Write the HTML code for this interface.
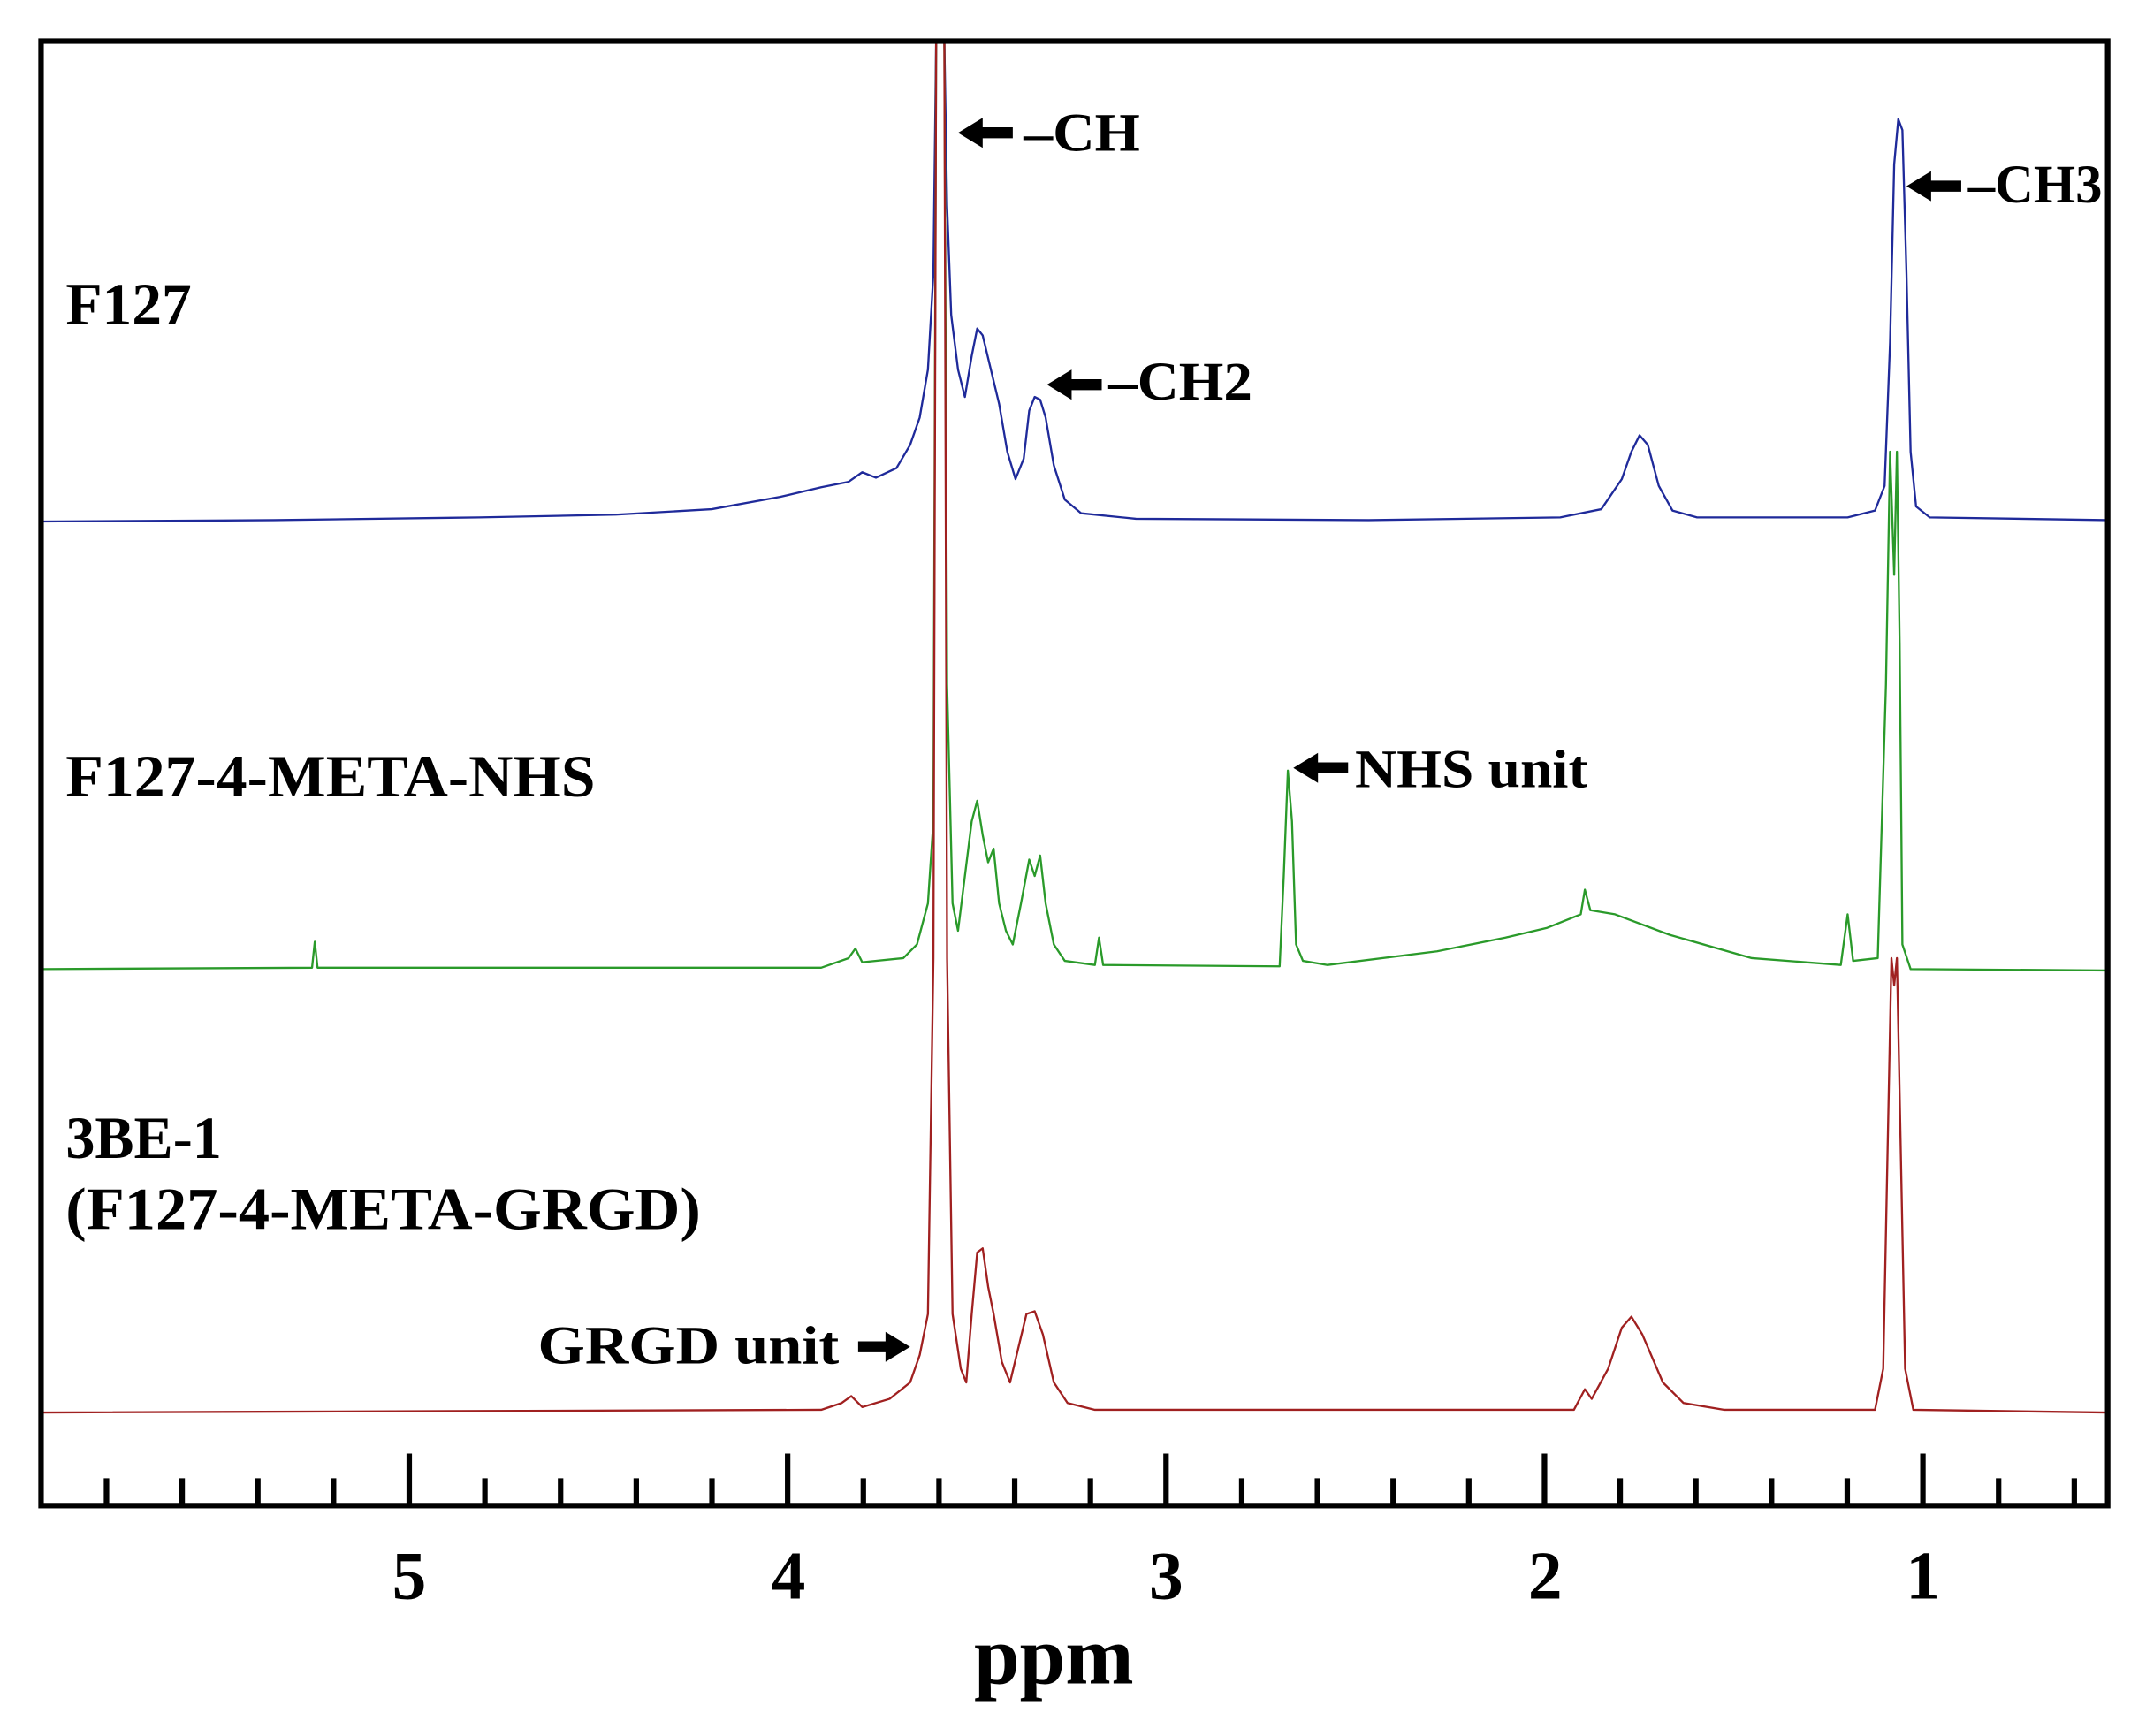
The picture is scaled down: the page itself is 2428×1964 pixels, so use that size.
<!DOCTYPE html>
<html><head><meta charset="utf-8"><style>
html,body{margin:0;padding:0;background:#fff}
svg{display:block}
text{font-family:"Liberation Serif",serif;font-weight:bold;fill:#000}
</style></head><body>
<svg xmlns="http://www.w3.org/2000/svg" width="2428" height="1964" viewBox="0 0 1568 1268.3">
<defs><clipPath id="c"><rect x="30" y="30" width="1510" height="1070"/></clipPath></defs>
<rect width="1568" height="1269" fill="#fff"/>
<g clip-path="url(#c)" fill="none" stroke-width="1.5" stroke-linejoin="round">
<path stroke="#1f2a9a" d="M30,381 L200,380 L350,378 L450,376 L520,372 L570,363 L600,356 L620,352 L630,345 L640,349 L655,342 L665,325 L672,305 L678,270 L682,200 L684,30 L686,20 L688,20 L690,30 L692,150 L695,230 L700,270 L705,290 L710,260 L714,240 L718,245 L724,270 L730,295 L736,330 L742,350 L748,335 L752,300 L756,290 L760,292 L764,305 L770,340 L778,365 L790,375 L830,379 L1000,380 L1140,378 L1170,372 L1185,350 L1192,330 L1198,318 L1204,325 L1212,355 L1222,373 L1240,378 L1350,378 L1370,373 L1377,355 L1381,250 L1384,120 L1387,87 L1390,95 L1393,200 L1396,330 L1400,370 L1410,378 L1540,380"/>
<path stroke="#2a9a2a" d="M30,708 L228,707 L230,688 L232,707 L600,707 L620,700 L625,693 L630,703 L660,700 L670,690 L678,660 L682,600 L684,30 L688,20 L690,30 L692,500 L696,660 L700,680 L705,640 L710,600 L714,585 L718,610 L722,630 L726,620 L730,660 L735,680 L740,690 L746,660 L752,628 L756,640 L760,625 L764,660 L770,690 L778,702 L800,705 L803,685 L806,705 L935,706 L938,640 L941,563 L944,600 L947,690 L952,702 L970,705 L1050,695 L1100,685 L1130,678 L1155,668 L1158,650 L1162,665 L1180,668 L1220,683 L1280,700 L1345,705 L1350,668 L1354,702 L1372,700 L1378,500 L1381,330 L1384,420 L1386,330 L1388,470 L1390,690 L1396,708 L1540,709"/>
<path stroke="#a02020" d="M30,1032 L600,1030 L615,1025 L622,1020 L630,1028 L650,1022 L665,1010 L672,990 L678,960 L682,700 L684,30 L688,20 L690,30 L692,700 L696,960 L702,1000 L706,1010 L710,960 L714,915 L718,912 L722,940 L726,960 L732,995 L738,1010 L744,985 L750,960 L756,958 L762,975 L770,1010 L780,1025 L800,1030 L1150,1030 L1158,1015 L1163,1022 L1175,1000 L1185,970 L1192,962 L1200,975 L1215,1010 L1230,1025 L1260,1030 L1370,1030 L1376,1000 L1380,800 L1382,700 L1384,720 L1386,700 L1388,800 L1392,1000 L1398,1030 L1540,1032"/>
</g>
<rect x="30" y="30" width="1510" height="1070" fill="none" stroke="#000" stroke-width="4"/>
<g stroke="#000" stroke-width="4">
<line x1="77.8" y1="1100" x2="77.8" y2="1080"/><line x1="133.1" y1="1100" x2="133.1" y2="1080"/><line x1="188.4" y1="1100" x2="188.4" y2="1080"/><line x1="243.7" y1="1100" x2="243.7" y2="1080"/><line x1="299" y1="1100" x2="299" y2="1062"/><line x1="354.3" y1="1100" x2="354.3" y2="1080"/><line x1="409.6" y1="1100" x2="409.6" y2="1080"/><line x1="464.9" y1="1100" x2="464.9" y2="1080"/><line x1="520.2" y1="1100" x2="520.2" y2="1080"/><line x1="575.5" y1="1100" x2="575.5" y2="1062"/><line x1="630.8" y1="1100" x2="630.8" y2="1080"/><line x1="686.1" y1="1100" x2="686.1" y2="1080"/><line x1="741.4" y1="1100" x2="741.4" y2="1080"/><line x1="796.7" y1="1100" x2="796.7" y2="1080"/><line x1="852" y1="1100" x2="852" y2="1062"/><line x1="907.3" y1="1100" x2="907.3" y2="1080"/><line x1="962.6" y1="1100" x2="962.6" y2="1080"/><line x1="1017.9" y1="1100" x2="1017.9" y2="1080"/><line x1="1073.2" y1="1100" x2="1073.2" y2="1080"/><line x1="1128.5" y1="1100" x2="1128.5" y2="1062"/><line x1="1183.8" y1="1100" x2="1183.8" y2="1080"/><line x1="1239.1" y1="1100" x2="1239.1" y2="1080"/><line x1="1294.4" y1="1100" x2="1294.4" y2="1080"/><line x1="1349.7" y1="1100" x2="1349.7" y2="1080"/><line x1="1405" y1="1100" x2="1405" y2="1062"/><line x1="1460.3" y1="1100" x2="1460.3" y2="1080"/><line x1="1515.6" y1="1100" x2="1515.6" y2="1080"/>
</g>
<g font-size="50" text-anchor="middle">
<text x="299" y="1168">5</text><text x="576" y="1168">4</text><text x="852" y="1168">3</text><text x="1129" y="1168">2</text><text x="1405" y="1168">1</text>
</g>
<text x="770" y="1230" font-size="60" text-anchor="middle">ppm</text>
<g font-size="44">
<text x="48" y="237" textLength="92" lengthAdjust="spacingAndGlyphs">F127</text>
<text x="48" y="582" textLength="387" lengthAdjust="spacingAndGlyphs">F127-4-META-NHS</text>
<text x="48" y="846" textLength="114" lengthAdjust="spacingAndGlyphs">3BE-1</text>
<text x="48" y="898" textLength="464" lengthAdjust="spacingAndGlyphs">(F127-4-META-GRGD)</text>
</g>
<g font-size="40">
<text x="748" y="110" textLength="85" lengthAdjust="spacingAndGlyphs">–CH</text>
<text x="810" y="292" textLength="105" lengthAdjust="spacingAndGlyphs">–CH2</text>
<text x="1438" y="148" textLength="98" lengthAdjust="spacingAndGlyphs">–CH3</text>
<text x="990" y="575" textLength="170" lengthAdjust="spacingAndGlyphs">NHS unit</text>
<text x="393" y="996" textLength="220" lengthAdjust="spacingAndGlyphs">GRGD unit</text>
</g>
<g fill="#000">
<polygon points="700,97 718,86 718,93 740,93 740,101 718,101 718,108"/>
<polygon points="765,281 783,270 783,277 805,277 805,285 783,285 783,292"/>
<polygon points="1393,136 1411,125 1411,132 1433,132 1433,140 1411,140 1411,147"/>
<polygon points="945,561 963,550 963,557 985,557 985,565 963,565 963,572"/>
<polygon points="665,984 647,973 647,980 627,980 627,988 647,988 647,995"/>
</g>
</svg>
</body></html>
